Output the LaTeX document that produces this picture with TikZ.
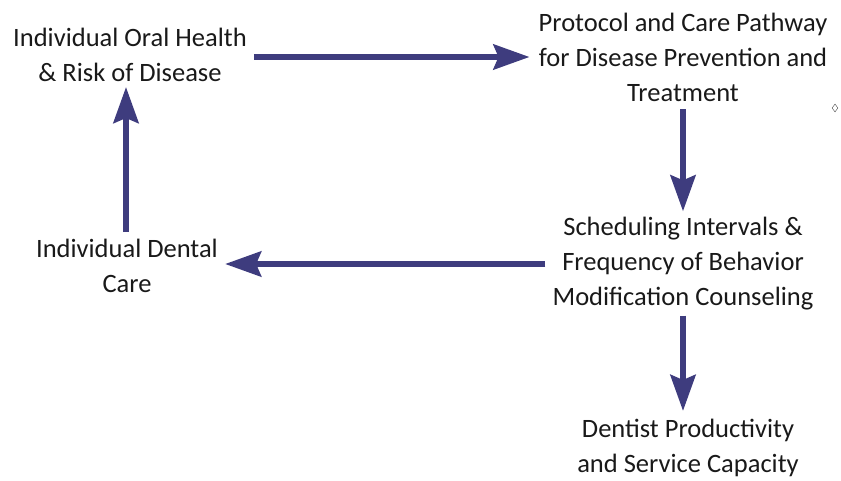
\documentclass[tikz,border=0pt]{standalone}
\usepackage{fontspec}
\setmainfont{Carlito}
\usetikzlibrary{positioning,arrows.meta,shapes.geometric}
\definecolor{arrownavy}{RGB}{62,60,126}

\begin{document}
\begin{tikzpicture}[x=1pt,y=-1pt,
textnode/.style={align=center, font=\fontsize{26.5}{35}\selectfont, text=black!90, inner sep=0pt},
flowarrow/.style={draw=arrownavy, line width=6pt, -{Stealth[length=36pt,width=25pt,inset=5pt]}},
]
\useasboundingbox (0,0) rectangle (841,481);
%Nodes
\node[textnode]      (health)    at (130,55)  {Individual Oral Health\\\& Risk of Disease};
\node[textnode]      (protocol)  at (683,57)  {Protocol and Care Pathway\\for Disease Prevention and\\Treatment};
\node[textnode]      (schedule)  at (683,264) {Scheduling Intervals \&\\Frequency of Behavior\\Modification Counseling};
\node[textnode]      (care)      at (127,266) {Individual Dental\\Care};
\node[textnode]      (capacity)  at (688,448) {Dentist Productivity\\and Service Capacity};
\node[diamond, draw=black!70, thin, inner sep=0pt, minimum width=6pt, minimum height=8pt] (mark) at (835,108) {};

%Lines
\draw[flowarrow, shorten <=7pt, shorten >=9pt] ([yshift=-2pt]health.east) -- ([yshift=-2pt]health.east -| protocol.west);
\draw[flowarrow, shorten <=8pt, shorten >=6pt] (protocol.south) -- (protocol.south |- schedule.north);
\draw[flowarrow, shorten <=7pt, shorten >=7pt] (schedule.west) -- (schedule.west -| care.east);
\draw[flowarrow, shorten <=7pt, shorten >=5pt] ([xshift=-1pt]care.north) -- ([xshift=-1pt]care.north |- health.south);
\draw[flowarrow, shorten <=5pt, shorten >=8pt] (schedule.south) -- (schedule.south |- capacity.north);
\end{tikzpicture}
\end{document}
